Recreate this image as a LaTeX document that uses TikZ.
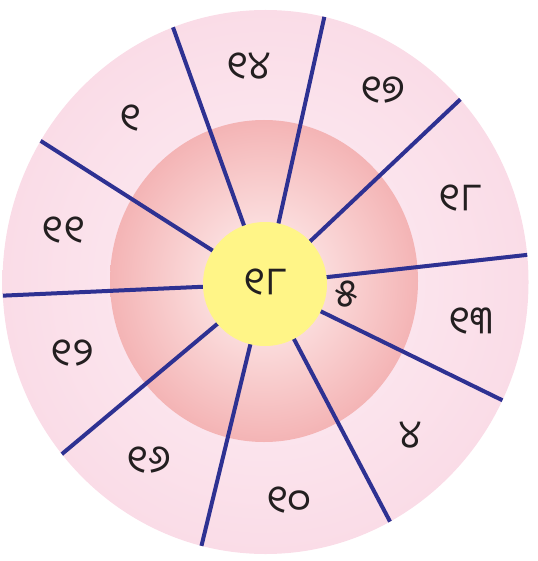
\documentclass[tikz,border=0pt]{standalone}
\usepackage{fontspec}
\newfontfamily\odia[Script=Oriya]{Noto Sans Oriya UI}
\definecolor{spoke}{HTML}{2E3192}
\definecolor{ringin}{HTML}{FDEFF5}
\definecolor{ringout}{HTML}{FADCE7}
\definecolor{diskin}{HTML}{FFF4F4}
\definecolor{diskout}{HTML}{F4B4B5}
\definecolor{hub}{HTML}{FFF587}
\definecolor{ink}{HTML}{231F20}
\tikzset{
  spokeline/.style={draw=spoke,line width=4pt},
  lab/.style={font=\odia\fontsize{39}{43}\selectfont,text=ink,inner sep=0pt}
}
\begin{document}
\begin{tikzpicture}[x=1pt,y=-1pt]
\useasboundingbox (0,0) rectangle (537,561);
\path[inner color=ringin,outer color=ringout] (265.5,282) ellipse [x radius=263,y radius=272];
\path[inner color=diskin,outer color=diskout] (264,281) ellipse [x radius=154,y radius=161];
\begin{scope}
\clip (265.5,282) ellipse [x radius=263,y radius=272];
\coordinate (h) at (265,284);
\foreach \x/\y in {170/19, 327/5, 466/94, 535/254, 510/404, 395/531, 199/556, 56/459, -5/296, 33/136}{
  \draw[spokeline] (h) -- (\x,\y);
}
\end{scope}
\node[circle,fill=hub,minimum size=124pt,inner sep=0pt] (c) at (265,284) {};
\node[lab] at (c) {୧୮};
\node[lab] (a1) at (248,68) {୧୪};
\node[lab] (a2) at (382,92) {୧୭};
\node[lab] (a3) at (460,200) {୧୮};
\node[lab] (a4) at (470,323) {୧୩};
\node[lab] (a5) at (346,296) {୫};
\node[lab] (a6) at (410,437) {୪};
\node[lab] (a7) at (288,502) {୧୦};
\node[lab] (a8) at (148,462) {୧୬};
\node[lab] (a9) at (73,355) {୧୨};
\node[lab] (a10) at (63,232) {୧୧};
\node[lab] (a11) at (130,120) {୧};
\end{tikzpicture}
\end{document}
